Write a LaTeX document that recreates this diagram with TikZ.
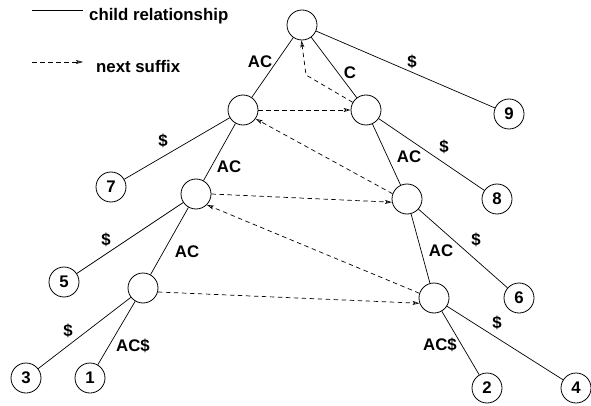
\documentclass[tikz,border=0pt]{standalone}
\usepackage{fontspec}
\setmainfont{Liberation Sans}
\usetikzlibrary{arrows.meta}
\begin{document}
\begin{tikzpicture}[x=1pt,y=-1pt,
  font=\fontsize{16.8}{19}\selectfont\bfseries,
  tnode/.style={circle,draw,line width=0.8pt,minimum size=30pt,inner sep=0pt},
  child/.style={line width=0.7pt},
  suffix/.style={line width=0.7pt,dash pattern=on 4.5pt off 3.5pt,
    -{Stealth[open,length=7pt,width=4pt,inset=1.5pt]}},
  lbl/.style={inner sep=0pt}]
\useasboundingbox (0,0) rectangle (591,406);

% legend
\coordinate (l1a) at (32,10);
\coordinate (l1b) at (83,10);
\draw[child] (l1a) -- (l1b);
\node[lbl,anchor=base west] (legchild) at (89,21) {child relationship};
\coordinate (l2a) at (32,62);
\coordinate (l2b) at (83,62);
\draw[suffix] (l2a) -- (l2b);
\node[lbl,anchor=base west] (legsuf) at (96,73) {next suffix};

% internal nodes
\node[tnode] (root) at (302,25) {};
\node[tnode] (a) at (243,110) {};
\node[tnode] (b) at (366,110) {};
\node[tnode] (d) at (196,194) {};
\node[tnode] (c) at (407,199) {};
\node[tnode] (e) at (143,288) {};
\node[tnode] (f) at (434,298) {};

% leaves
\node[tnode] (n9) at (509,114) {9};
\node[tnode] (n8) at (497,199) {8};
\node[tnode] (n7) at (111,187) {7};
\node[tnode] (n6) at (519,298) {6};
\node[tnode] (n5) at (64,282) {5};
\node[tnode] (n3) at (26,378) {3};
\node[tnode] (n1) at (90,378) {1};
\node[tnode] (n2) at (487,388) {2};
\node[tnode] (n4) at (576,388) {4};

% child edges
\draw[child] (root) -- (a);
\draw[child] (root) -- (b);
\draw[child] (root) -- (n9);
\draw[child] (a) -- (n7);
\draw[child] (a) -- (d);
\draw[child] (b) -- (c);
\draw[child] (b) -- (n8);
\draw[child] (d) -- (n5);
\draw[child] (d) -- (e);
\draw[child] (c) -- (f);
\draw[child] (c) -- (n6);
\draw[child] (e) -- (n3);
\draw[child] (e) -- (n1);
\draw[child] (f) -- (n2);
\draw[child] (f) -- (n4);

% edge labels
\node[lbl] (t1) at (260,62) {AC};
\node[lbl] (t2) at (350,73) {C};
\node[lbl] (t3) at (412,62) {\$};
\node[lbl] (t4) at (444,147) {\$};
\node[lbl] (t5) at (409,157) {AC};
\node[lbl] (t6) at (229,167) {AC};
\node[lbl] (t7) at (163,141) {\$};
\node[lbl] (t8) at (187,252) {AC};
\node[lbl] (t9) at (106,240) {\$};
\node[lbl] (t10) at (68,331) {\$};
\node[lbl] (t11) at (133,346) {AC\$};
\node[lbl] (t12) at (441,251) {AC};
\node[lbl] (t13) at (476,240) {\$};
\node[lbl] (t14) at (497,323) {\$};
\node[lbl] (t15) at (440,345) {AC\$};

% suffix links
\coordinate (bend) at (306,75);
\draw[suffix] (a.east) -- (b.west);
\draw[suffix] (b.150) -- (bend) -- (root.-92);
\draw[suffix] (c.160) -- (a.-35);
\draw[suffix] (d.east) -- (c.192);
\draw[suffix] (f.162) -- (d.-45);
\draw[suffix] (e.-15) -- (f.200);
\end{tikzpicture}
\end{document}
